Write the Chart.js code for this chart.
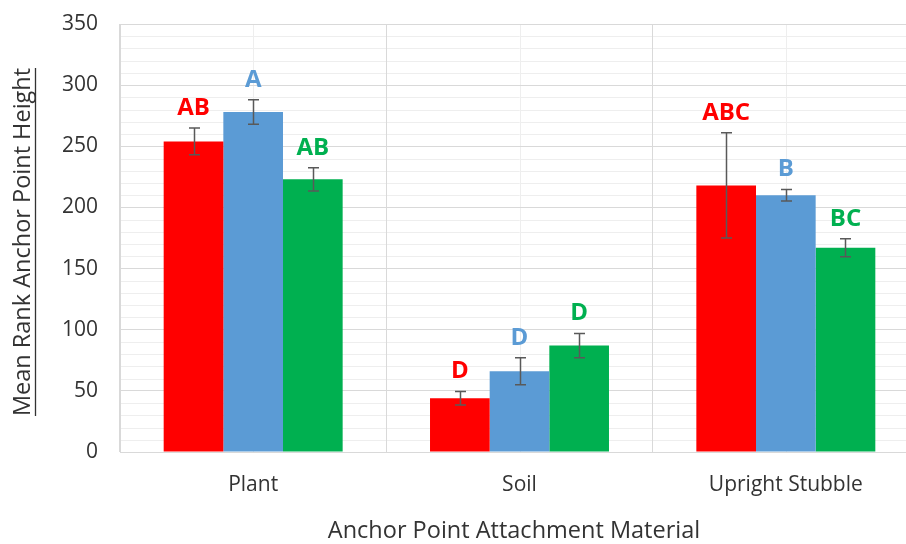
<!DOCTYPE html>
<html>
<head>
<meta charset="utf-8">
<script src="https://cdn.jsdelivr.net/npm/chart.js@4.4.1/dist/chart.umd.min.js"></script>
<style>
    html, body { margin: 0; padding: 0; background: #ffffff; overflow: hidden; }
    #wrap { position: relative; width: 930px; height: 544px; }
</style>
</head>
<body>
<div id="wrap"><canvas id="chart"></canvas></div>
<script>
// Categories and tick labels
const categories = ['Plant', 'Soil', 'Upright Stubble'];
const yTicks = [0, 50, 100, 150, 200, 250, 300, 350];

// Series values (mean rank) and error bar half-lengths
const seriesRed = [254, 44, 218];
const seriesBlue = [278, 66, 210];
const seriesGreen = [223, 87, 167];
const errRed = [11, 5.5, 43];
const errBlue = [10, 11, 4.7];
const errGreen = [9.5, 10, 7.3];

// Significance letters above the bars
const lettersRed = ['AB', 'D', 'ABC'];
const lettersBlue = ['A', 'D', 'B'];
const lettersGreen = ['AB', 'D', 'BC'];

const COLORS = {
    red: '#ff0000',
    blue: '#5b9bd5',
    green: '#00b050',
    errBar: '#595959',
    gridMajor: '#d9d9d9',
    gridMinor: '#eeeeee',
    text: '#333333'
};

const FONT = "'Open Sans', 'Liberation Sans', sans-serif";

/**
 * Minor gridlines: every 10 units horizontally, category centres vertically
 */
const minorGrid = {
    id: 'minorGrid',
    beforeDraw(chart) {
        const { ctx, chartArea: a, scales: { x, y } } = chart;
        ctx.save();
        ctx.strokeStyle = COLORS.gridMinor;
        ctx.lineWidth = 1;
        for (let v = 10; v < 350; v += 10) {
            if (v % 50 === 0) continue;
            const py = Math.round(y.getPixelForValue(v)) + 0.5;
            ctx.beginPath();
            ctx.moveTo(a.left, py);
            ctx.lineTo(a.right, py);
            ctx.stroke();
        }
        categories.forEach((c, i) => {
            const px = Math.round(x.getPixelForValue(i)) + 0.5;
            ctx.beginPath();
            ctx.moveTo(px, a.top);
            ctx.lineTo(px, a.bottom);
            ctx.stroke();
        });
        ctx.restore();
    }
};

/**
 * Error bars and letter labels drawn from the dataset values
 */
const errorBars = {
    id: 'errorBars',
    afterDatasetsDraw(chart) {
        const { ctx, scales: { y } } = chart;
        ctx.save();
        chart.data.datasets.forEach((ds, di) => {
            const meta = chart.getDatasetMeta(di);
            meta.data.forEach((bar, i) => {
                const v = ds.data[i];
                const e = ds.errors[i];
                const top = y.getPixelForValue(v + e);
                const bottom = y.getPixelForValue(v - e);
                const cx = Math.round(bar.x) + 0.5;

                ctx.strokeStyle = COLORS.errBar;
                ctx.lineWidth = 1.5;
                ctx.beginPath();
                ctx.moveTo(cx, top);
                ctx.lineTo(cx, bottom);
                ctx.moveTo(cx - 5.5, top);
                ctx.lineTo(cx + 5.5, top);
                ctx.moveTo(cx - 5.5, bottom);
                ctx.lineTo(cx + 5.5, bottom);
                ctx.stroke();

                ctx.fillStyle = ds.backgroundColor;
                ctx.font = 'bold 24px ' + FONT;
                ctx.textAlign = 'center';
                ctx.textBaseline = 'alphabetic';
                ctx.fillText(ds.letters[i], bar.x, top - 13);
            });
        });
        ctx.restore();
    }
};

/**
 * Axis titles (the y title is underlined)
 */
const axisTitles = {
    id: 'axisTitles',
    afterDraw(chart) {
        const { ctx } = chart;
        ctx.save();
        ctx.fillStyle = COLORS.text;
        ctx.font = '23.5px ' + FONT;
        ctx.textAlign = 'center';
        ctx.textBaseline = 'middle';
        ctx.fillText('Anchor Point Attachment Material', 514, 531);

        const yTitle = 'Mean Rank Anchor Point Height';
        ctx.translate(23, 242);
        ctx.rotate(-Math.PI / 2);
        ctx.fillText(yTitle, 0, 0);
        const w = ctx.measureText(yTitle).width;
        ctx.strokeStyle = COLORS.text;
        ctx.lineWidth = 1.3;
        ctx.beginPath();
        ctx.moveTo(-w / 2, 12.5);
        ctx.lineTo(w / 2, 12.5);
        ctx.stroke();
        ctx.restore();
    }
};

const ctx = document.getElementById('chart');
new Chart(ctx, {
    type: 'bar',
    data: {
        labels: categories,
        datasets: [
            { data: seriesRed, errors: errRed, letters: lettersRed, backgroundColor: COLORS.red },
            { data: seriesBlue, errors: errBlue, letters: lettersBlue, backgroundColor: COLORS.blue },
            { data: seriesGreen, errors: errGreen, letters: lettersGreen, backgroundColor: COLORS.green }
        ]
    },
    options: {
        responsive: true,
        maintainAspectRatio: false,
        animation: false,
        categoryPercentage: 0.672,
        barPercentage: 1.0,
        layout: { padding: { top: 24, right: 11, left: 0, bottom: 0 } },
        plugins: {
            legend: { display: false },
            tooltip: { enabled: false }
        },
        scales: {
            x: {
                grid: { display: true, offset: true, color: COLORS.gridMajor, drawTicks: false },
                border: { display: true, color: COLORS.gridMajor },
                ticks: { color: COLORS.text, font: { family: FONT, size: 21 }, padding: 20 },
                afterFit(scale) {
                    scale.height = 92;
                    scale.paddingLeft = 0;
                    scale.paddingRight = 0;
                }
            },
            y: {
                min: 0,
                max: 350,
                afterBuildTicks(scale) { scale.ticks = yTicks.map(v => ({ value: v })); },
                grid: { color: COLORS.gridMajor, drawTicks: false },
                border: { display: true, color: COLORS.gridMajor },
                ticks: { color: COLORS.text, font: { family: FONT, size: 21 }, padding: 22 },
                afterFit(scale) {
                    scale.width = 120;
                    scale.paddingTop = 0;
                    scale.paddingBottom = 0;
                }
            }
        }
    },
    plugins: [minorGrid, errorBars, axisTitles]
});
</script>
</body>
</html>
